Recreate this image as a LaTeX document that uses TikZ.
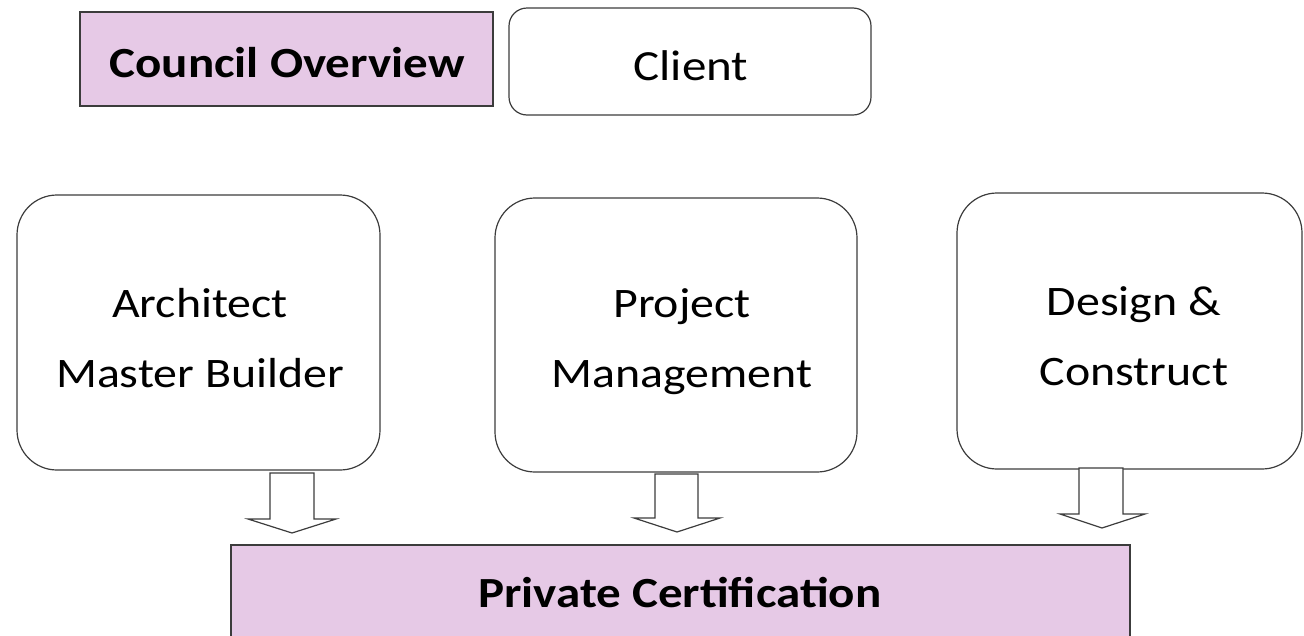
\documentclass[tikz,border=0pt]{standalone}
\usepackage{fontspec}
\usepackage{graphicx}
\setmainfont{Carlito}
\definecolor{lilac}{RGB}{230,201,230}
\definecolor{edge}{RGB}{60,60,60}
\newcommand\wideText[1]{\scalebox{1.14}[1]{#1}}
\begin{document}
\begin{tikzpicture}[x=1pt,y=-1pt,
  sq/.style={draw=edge,line width=1.4pt,fill=lilac},
  rbox/.style={draw=edge,line width=1.2pt,rounded corners=40pt},
  lbl/.style={font=\fontsize{42}{70}\selectfont,align=center},
  one/.style={font=\fontsize{43}{50}\selectfont,anchor=base},
  blk/.style={draw=edge,line width=1.2pt,fill=white}]
\useasboundingbox (0,0) rectangle (1304,635);
% top row
\draw[sq] (80,12) rectangle (493,106);
\node[one,font=\fontsize{43}{50}\selectfont\bfseries] (co) at (287,77) {\wideText{Council Overview}};
\draw[draw=edge,line width=1.2pt,rounded corners=18pt] (509,8) rectangle (871,115);
\node[one] (cl) at (691,80) {\wideText{Client}};
% middle boxes
\draw[rbox] (17,195) rectangle (380,470);
\node[lbl] (am) at (200,338) {\wideText{Architect}\\\wideText{Master Builder}};
\draw[rbox] (495,198) rectangle (857,472);
\node[lbl] (pm) at (682,342) {\wideText{Project}\\\wideText{Management}};
\draw[rbox] (957,193) rectangle (1302,469);
\node[lbl] (dc) at (1134,336) {\wideText{Design \&}\\\wideText{Construct}};
% bottom
\draw[sq] (231,545) rectangle (1130,650);
\node[one,font=\fontsize{43}{50}\selectfont\bfseries] (pc) at (680,607) {\wideText{Private Certification}};
% block arrows
\draw[blk] (270,473) -- (314,473) -- (314,519) -- (336,519) -- (292,533) -- (248,519) -- (270,519) -- cycle;
\draw[blk] (655,474) -- (698,474) -- (698,518) -- (720,518) -- (677,532) -- (634,518) -- (655,518) -- cycle;
\draw[blk] (1079,468) -- (1123,468) -- (1123,514) -- (1145,514) -- (1102,528) -- (1060,514) -- (1079,514) -- cycle;
\end{tikzpicture}
\end{document}
